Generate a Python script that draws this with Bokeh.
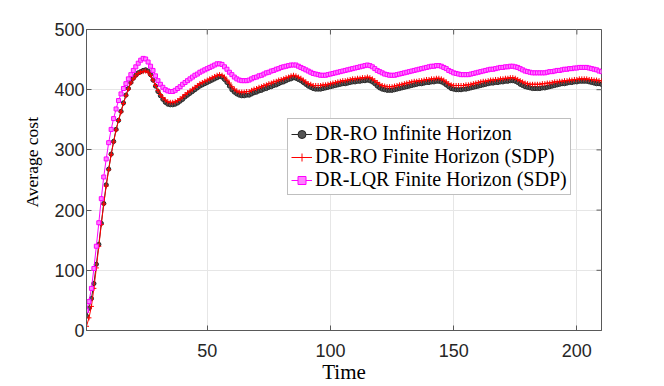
import math
from bokeh.plotting import figure
from bokeh.models import Range1d, FixedTicker, Legend, LegendItem, Title
from bokeh.embed import file_html
from bokeh.resources import INLINE

time = list(range(1, 211))

dr_ro_infinite = [
    24, 37, 53, 78, 110, 143, 178, 211, 242, 268,
    293, 314, 334, 349, 364, 378, 391, 402, 412, 419,
    424, 428, 430, 432, 433, 431, 425, 416, 406, 397,
    390, 384, 379, 376, 375, 375, 376, 378, 381, 384,
    388, 391, 394, 397, 400, 403, 406, 408, 410, 412,
    414, 416, 418, 420, 422, 421, 417, 412, 406, 400,
    396, 393, 391, 390, 390, 391, 391, 393, 395, 396,
    398, 399, 401, 402, 404, 405, 407, 408, 410, 412,
    413, 415, 417, 418, 420, 419, 417, 415, 412, 409,
    406, 404, 402, 401, 401, 401, 402, 403, 404, 405,
    406, 407, 408, 409, 410, 410, 411, 412, 413, 413,
    414, 414, 415, 415, 416, 415, 413, 410, 406, 403,
    401, 400, 399, 399, 399, 400, 401, 402, 403, 404,
    405, 406, 407, 408, 409, 410, 410, 411, 412, 412,
    413, 413, 414, 414, 413, 411, 408, 405, 402, 401,
    400, 400, 400, 401, 401, 402, 403, 404, 405, 406,
    407, 408, 409, 410, 411, 411, 412, 412, 413, 413,
    414, 414, 415, 415, 414, 412, 409, 407, 405, 404,
    403, 402, 402, 402, 402, 403, 403, 404, 405, 406,
    407, 408, 409, 410, 410, 411, 412, 412, 413, 413,
    414, 414, 414, 414, 413, 412, 411, 410, 410, 409,
]

dr_ro_finite = [
    7, 21, 40, 70, 104, 140, 176, 210, 240, 267,
    292, 313, 333, 349, 363, 377, 390, 401, 411, 418,
    423, 427, 429, 430, 431, 429, 424, 416, 407, 399,
    392, 387, 383, 380, 379, 379, 380, 382, 385, 388,
    392, 395, 398, 401, 404, 407, 410, 412, 414, 416,
    418, 420, 422, 424, 425, 424, 421, 416, 411, 405,
    401, 398, 396, 396, 396, 397, 397, 399, 401, 402,
    404, 405, 407, 408, 410, 411, 413, 414, 416, 417,
    418, 420, 421, 423, 424, 423, 421, 419, 416, 413,
    410, 409, 407, 407, 407, 407, 408, 408, 409, 410,
    411, 412, 413, 414, 415, 415, 416, 417, 418, 418,
    419, 419, 420, 420, 421, 420, 418, 415, 412, 409,
    407, 406, 405, 405, 405, 406, 407, 408, 409, 410,
    411, 412, 413, 414, 414, 415, 415, 416, 417, 417,
    418, 418, 419, 419, 418, 416, 413, 410, 408, 407,
    407, 407, 407, 407, 408, 408, 409, 410, 411, 412,
    413, 414, 414, 415, 416, 416, 417, 417, 418, 418,
    419, 419, 420, 420, 419, 417, 415, 413, 411, 410,
    409, 409, 409, 409, 409, 410, 410, 411, 411, 412,
    413, 413, 414, 414, 415, 415, 416, 416, 417, 417,
    418, 418, 418, 418, 417, 417, 416, 416, 415, 415,
]

dr_lqr_finite = [
    33, 48, 70, 103, 140, 179, 219, 255, 285, 312,
    334, 352, 368, 382, 393, 402, 410, 418, 425, 432,
    438, 444, 449, 452, 451, 446, 439, 432, 423, 415,
    409, 404, 400, 398, 397, 397, 399, 402, 405, 409,
    412, 415, 418, 421, 424, 426, 429, 431, 433, 435,
    437, 439, 441, 443, 443, 442, 438, 434, 429, 425,
    421, 418, 416, 415, 415, 415, 416, 418, 420, 421,
    423, 424, 426, 428, 429, 431, 432, 434, 435, 437,
    438, 439, 440, 441, 441, 441, 439, 437, 435, 433,
    431, 429, 427, 426, 425, 424, 424, 424, 425, 426,
    427, 428, 429, 430, 431, 432, 433, 434, 435, 436,
    437, 438, 439, 440, 441, 440, 438, 435, 432, 430,
    428, 426, 425, 424, 424, 424, 425, 426, 427, 428,
    429, 430, 431, 432, 433, 434, 435, 436, 437, 438,
    439, 439, 440, 440, 439, 437, 435, 432, 430, 428,
    427, 426, 425, 425, 425, 425, 426, 427, 428, 429,
    430, 431, 432, 433, 434, 434, 435, 436, 437, 437,
    438, 438, 439, 439, 438, 437, 435, 433, 431, 430,
    429, 428, 428, 428, 428, 428, 428, 429, 430, 430,
    431, 432, 432, 433, 434, 434, 435, 435, 436, 436,
    437, 437, 437, 437, 436, 435, 434, 433, 431, 430,
]

x_ticks = [50, 100, 150, 200]
y_ticks = [0, 100, 200, 300, 400, 500]
x_limits = (1, 210)
y_limits = (0, 500)
legend_labels = [
    "DR-RO Infinite Horizon",
    "DR-RO Finite Horizon (SDP)",
    "DR-LQR Finite Horizon (SDP)",
]

assert len(dr_ro_infinite) == len(time)
assert len(dr_ro_finite) == len(time)
assert len(dr_lqr_finite) == len(time)

SERIF = "Liberation Serif"
SANS = "Liberation Sans"
AX_COL = "#595959"
TXT_COL = "#262626"

p = figure(frame_width=515, frame_height=301, output_backend="svg",
           toolbar_location=None,
           x_range=Range1d(*x_limits), y_range=Range1d(*y_limits),
           min_border_left=86, min_border_top=29, min_border_right=63,
           min_border_bottom=56, background_fill_color="white",
           border_fill_color="white")
p.outline_line_color = AX_COL
p.outline_line_width = 1

p.xaxis.ticker = FixedTicker(ticks=x_ticks)
p.yaxis.ticker = FixedTicker(ticks=y_ticks)
for ax in (p.xaxis[0], p.yaxis[0]):
    ax.axis_line_color = AX_COL
    ax.major_tick_line_color = AX_COL
    ax.major_tick_in = 5
    ax.major_tick_out = 0
    ax.minor_tick_line_color = None
    ax.major_label_text_font = SANS
    ax.major_label_text_font_size = "18px"
    ax.major_label_text_color = TXT_COL
    ax.axis_label_text_font = SERIF
    ax.axis_label_text_font_style = "normal"
    ax.axis_label_text_color = "#000000"
p.xaxis.axis_label = "Time"
p.xaxis.axis_label_text_font_size = "21px"
p.xaxis.major_label_standoff = 13
p.yaxis.major_label_standoff = 2
p.xaxis.axis_label_standoff = 0

# y-axis title, drawn in the left panel and shifted up like the reference
ytitle = Title(text="Average cost", align="left", offset=123,
               text_font=SERIF, text_font_size="17.5px",
               text_font_style="normal", text_color="#000000",
               standoff=19)
p.add_layout(ytitle, "left")

p.xgrid.grid_line_color = "#e6e6e6"
p.ygrid.grid_line_color = "#e6e6e6"
p.xgrid.ticker = FixedTicker(ticks=x_ticks)
p.ygrid.ticker = FixedTicker(ticks=y_ticks)

# inward ticks on the top and right box edges (half of each dash is clipped)
p.scatter(x_ticks, [y_limits[1]] * len(x_ticks), marker="dash", size=10,
          angle=math.pi / 2, line_color=AX_COL, line_width=1)
p.scatter([x_limits[1]] * len(y_ticks), y_ticks, marker="dash", size=10,
          line_color=AX_COL, line_width=1)

l1 = p.line(time, dr_ro_infinite, line_color="#262626", line_width=1)
m1 = p.scatter(time, dr_ro_infinite, marker="circle", size=4.2,
               line_color="#262626", fill_color="#555555", line_width=1)
l2 = p.line(time, dr_ro_finite, line_color="#ff0000", line_width=1)
m2 = p.scatter(time, dr_ro_finite, marker="cross", size=5,
               line_color="#ff0000", line_width=1)
l3 = p.line(time, dr_lqr_finite, line_color="#ff00ff", line_width=1)
m3 = p.scatter(time, dr_lqr_finite, marker="square", size=4,
               line_color="#ff00ff", fill_color="#ff80ff", line_width=1)

legend = Legend(items=[
    LegendItem(label=legend_labels[0], renderers=[l1, m1]),
    LegendItem(label=legend_labels[1], renderers=[l2, m2]),
    LegendItem(label=legend_labels[2], renderers=[l3, m3]),
], location=(201, 135))
legend.label_text_font = SERIF
legend.label_text_font_size = "20px"
legend.label_text_color = "#000000"
legend.glyph_width = 21
legend.glyph_height = 20
legend.label_height = 20
legend.label_standoff = 3
legend.spacing = 0
legend.padding = 3
legend.margin = 0
legend.border_line_color = "#7f7f7f"
legend.border_line_width = 1
legend.background_fill_color = "white"
legend.background_fill_alpha = 1
p.add_layout(legend)

open("out.html", "w").write(file_html(p, INLINE))
